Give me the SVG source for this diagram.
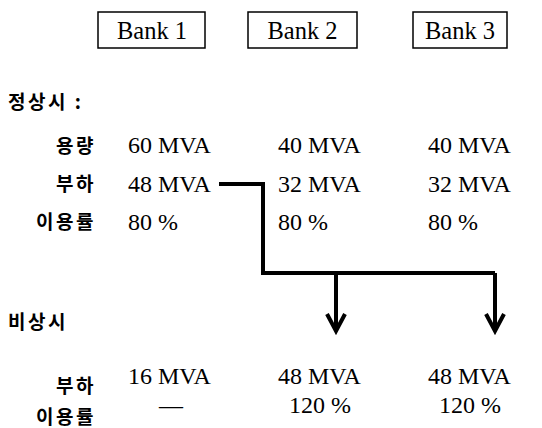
<svg xmlns="http://www.w3.org/2000/svg" width="542" height="428" viewBox="0 0 542 428">
<style>
.box{fill:#fff;stroke:#000;stroke-width:1.5}
.en{font-family:"Liberation Serif",serif;font-size:24px;fill:#000}
.bk{font-family:"Liberation Serif",serif;font-size:24.5px;fill:#000;text-anchor:middle}
.ko{font-family:"Noto Sans CJK KR",sans-serif;font-size:19px;font-weight:bold;fill:#000;letter-spacing:2.5px}
.r{text-anchor:end}
.m{text-anchor:middle}
.ln{fill:none;stroke:#000;stroke-width:4;stroke-linejoin:miter}
</style>
<g id="bank1"><rect class="box" x="98" y="12" width="107" height="36"/><text class="bk" x="152" y="38.5">Bank 1</text></g>
<g id="bank2"><rect class="box" x="248" y="12" width="109" height="36"/><text class="bk" x="302.5" y="38.5">Bank 2</text></g>
<g id="bank3"><rect class="box" x="413" y="12" width="94" height="36"/><text class="bk" x="460" y="38.5">Bank 3</text></g>
<g id="normal">
<text class="ko" x="8" y="109">정상시 :</text>
<text class="ko r" x="96" y="153">용량</text>
<text class="ko r" x="96" y="191">부하</text>
<text class="ko r" x="96" y="229">이용률</text>
<text class="en" x="128" y="153">60 MVA</text>
<text class="en" x="278" y="153">40 MVA</text>
<text class="en" x="428" y="153">40 MVA</text>
<text class="en" x="128" y="192">48 MVA</text>
<text class="en" x="278" y="192">32 MVA</text>
<text class="en" x="428" y="192">32 MVA</text>
<text class="en" x="128" y="230">80 %</text>
<text class="en" x="278" y="230">80 %</text>
<text class="en" x="428" y="230">80 %</text>
</g>
<g id="emergency">
<text class="ko" x="8" y="329">비상시</text>
<text class="ko r" x="96" y="393">부하</text>
<text class="ko r" x="96" y="424">이용률</text>
<text class="en" x="128" y="384">16 MVA</text>
<text class="en" x="278" y="384">48 MVA</text>
<text class="en" x="428" y="384">48 MVA</text>
<text class="en m" x="171" y="413">—</text>
<text class="en m" x="320" y="413">120 %</text>
<text class="en m" x="470" y="413">120 %</text>
</g>
<g id="connectors">
<path class="ln" d="M219,184 H263 V273 H495 M336,273 V331 M495,273 V331"/>
<path class="ln" d="M327,314 L336,331 L345,314 M486,314 L495,331 L504,314"/>
</g>
</svg>
